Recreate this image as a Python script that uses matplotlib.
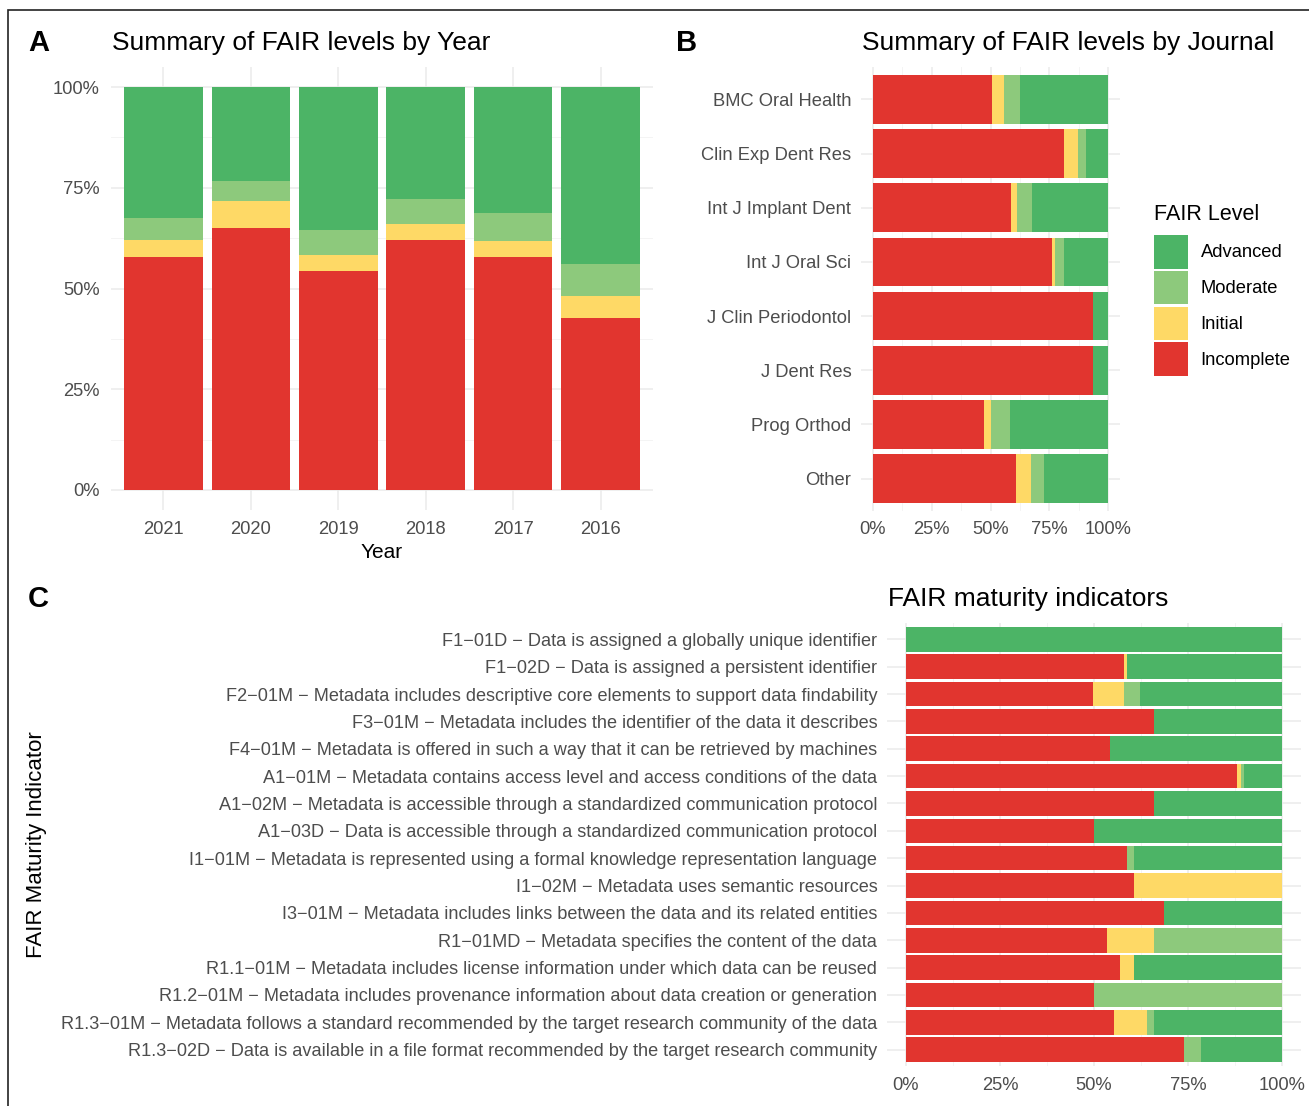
import matplotlib
matplotlib.use("Agg")
import matplotlib.pyplot as plt
from matplotlib.patches import Patch, Rectangle
from matplotlib.ticker import MultipleLocator, PercentFormatter
import numpy as np

plt.rcParams['font.family'] = ['Liberation Sans', 'DejaVu Sans']

# colours for the four FAIR levels
levels = ['Incomplete', 'Initial', 'Moderate', 'Advanced']
level_colors = {'Incomplete': '#E1352F', 'Initial': '#FED966',
                'Moderate': '#8DC97C', 'Advanced': '#4CB466'}

# --- panel A: by year (fractions) ---
years = ['2021', '2020', '2019', '2018', '2017', '2016']
year_incomplete = [0.578, 0.650, 0.544, 0.620, 0.578, 0.427]
year_initial = [0.042, 0.067, 0.039, 0.040, 0.040, 0.055]
year_moderate = [0.055, 0.050, 0.062, 0.062, 0.069, 0.079]
year_advanced = [0.325, 0.233, 0.355, 0.278, 0.313, 0.439]

# --- panel B: by journal ---
journals = ['BMC Oral Health', 'Clin Exp Dent Res', 'Int J Implant Dent',
            'Int J Oral Sci', 'J Clin Periodontol', 'J Dent Res',
            'Prog Orthod', 'Other']
journal_incomplete = [0.506, 0.813, 0.587, 0.762, 0.936, 0.936, 0.472, 0.609]
journal_initial = [0.051, 0.059, 0.026, 0.012, 0.0, 0.0, 0.030, 0.063]
journal_moderate = [0.069, 0.034, 0.064, 0.039, 0.0, 0.0, 0.081, 0.056]
journal_advanced = [0.374, 0.094, 0.323, 0.187, 0.064, 0.064, 0.417, 0.272]

# --- panel C: maturity indicators ---
indicators = [
    'F1\u221201D \u2212 Data is assigned a globally unique identifier',
    'F1\u221202D \u2212 Data is assigned a persistent identifier',
    'F2\u221201M \u2212 Metadata includes descriptive core elements to support data findability',
    'F3\u221201M \u2212 Metadata includes the identifier of the data it describes',
    'F4\u221201M \u2212 Metadata is offered in such a way that it can be retrieved by machines',
    'A1\u221201M \u2212 Metadata contains access level and access conditions of the data',
    'A1\u221202M \u2212 Metadata is accessible through a standardized communication protocol',
    'A1\u221203D \u2212 Data is accessible through a standardized communication protocol',
    'I1\u221201M \u2212 Metadata is represented using a formal knowledge representation language',
    'I1\u221202M \u2212 Metadata uses semantic resources',
    'I3\u221201M \u2212 Metadata includes links between the data and its related entities',
    'R1\u221201MD \u2212 Metadata specifies the content of the data',
    'R1.1\u221201M \u2212 Metadata includes license information under which data can be reused',
    'R1.2\u221201M \u2212 Metadata includes provenance information about data creation or generation',
    'R1.3\u221201M \u2212 Metadata follows a standard recommended by the target research community of the data',
    'R1.3\u221202D \u2212 Data is available in a file format recommended by the target research community',
]
ind_incomplete = [0.0, 0.580, 0.497, 0.660, 0.543, 0.880, 0.660, 0.500,
                  0.588, 0.606, 0.686, 0.535, 0.569, 0.500, 0.553, 0.739]
ind_initial = [0.0, 0.008, 0.083, 0.0, 0.0, 0.011, 0.0, 0.0,
               0.0, 0.394, 0.0, 0.125, 0.037, 0.0, 0.088, 0.0]
ind_moderate = [0.0, 0.0, 0.042, 0.0, 0.0, 0.008, 0.0, 0.0,
                0.018, 0.0, 0.0, 0.340, 0.0, 0.500, 0.019, 0.046]
ind_advanced = [1.0, 0.412, 0.378, 0.340, 0.457, 0.101, 0.340, 0.500,
                0.394, 0.0, 0.314, 0.0, 0.394, 0.0, 0.340, 0.215]

W, H = 1309, 1106
fig = plt.figure(figsize=(W / 100, H / 100), dpi=100)


def px_rect(left, top, right, bottom):
    return [left / W, 1 - bottom / H, (right - left) / W, (bottom - top) / H]


def style_axis(ax):
    for s in ax.spines.values():
        s.set_visible(False)
    ax.set_axisbelow(True)
    ax.grid(which='major', color='#EBEBEB', linewidth=1.1)
    ax.grid(which='minor', color='#F2F2F2', linewidth=0.6)
    ax.tick_params(which='both', length=0, labelsize=13.2, labelcolor='#4D4D4D')


# ---------- A ----------
axA = fig.add_axes(px_rect(111, 67, 653, 510))
style_axis(axA)
xa = np.arange(len(years))
bottom = np.zeros(len(years))
for name, vals in zip(levels, [year_incomplete, year_initial, year_moderate, year_advanced]):
    axA.bar(xa, vals, bottom=bottom, width=0.9, color=level_colors[name], linewidth=0)
    bottom += np.array(vals)
axA.set_xlim(-0.6, len(years) - 0.4)
axA.set_ylim(-0.05, 1.05)
axA.set_xticks(xa)
axA.set_xticklabels(years)
axA.yaxis.set_major_locator(MultipleLocator(0.25))
axA.yaxis.set_minor_locator(MultipleLocator(0.125))
axA.yaxis.set_major_formatter(PercentFormatter(1.0, decimals=0))
axA.grid(which='minor', axis='x', visible=False)
axA.tick_params(axis='y', pad=8)
axA.tick_params(axis='x', pad=8)
fig.text(382 / W, 1 - 553 / H, 'Year', fontsize=15, ha='center', va='center')
fig.text(112 / W, 1 - 43 / H, 'Summary of FAIR levels by Year', fontsize=19,
         ha='left', va='center')

# ---------- B ----------
axB = fig.add_axes(px_rect(861, 67, 1120, 511))
style_axis(axB)
yb = np.arange(len(journals))
left = np.zeros(len(journals))
for name, vals in zip(levels, [journal_incomplete, journal_initial, journal_moderate, journal_advanced]):
    axB.barh(yb, vals, left=left, height=0.9, color=level_colors[name], linewidth=0)
    left += np.array(vals)
axB.set_ylim(len(journals) - 0.4, -0.6)
axB.set_xlim(-0.05, 1.05)
axB.set_yticks(yb)
axB.set_yticklabels(journals)
axB.xaxis.set_major_locator(MultipleLocator(0.25))
axB.xaxis.set_minor_locator(MultipleLocator(0.125))
axB.xaxis.set_major_formatter(PercentFormatter(1.0, decimals=0))
axB.grid(which='minor', axis='y', visible=False)
axB.tick_params(axis='y', pad=7)
axB.tick_params(axis='x', pad=7)
fig.text(862 / W, 1 - 43 / H, 'Summary of FAIR levels by Journal', fontsize=19,
         ha='left', va='center')

# legend
fig.text(1154 / W, 1 - 215 / H, 'FAIR Level', fontsize=15.5, ha='left', va='center')
handles = [Patch(facecolor=level_colors[n], edgecolor='none', label=n) for n in reversed(levels)]
fig.legend(handles=handles, loc='upper left', bbox_to_anchor=(1154 / W, 1 - 235 / H),
           frameon=False, fontsize=13.2, handlelength=1.83, handleheight=2.44,
           labelspacing=0.12, handletextpad=0.72, borderpad=0, borderaxespad=0)

# ---------- C ----------
axC = fig.add_axes(px_rect(887, 623, 1301, 1066))
style_axis(axC)
yc = np.arange(len(indicators))
left = np.zeros(len(indicators))
for name, vals in zip(levels, [ind_incomplete, ind_initial, ind_moderate, ind_advanced]):
    axC.barh(yc, vals, left=left, height=0.9, color=level_colors[name], linewidth=0)
    left += np.array(vals)
axC.set_ylim(len(indicators) - 0.4, -0.6)
axC.set_xlim(-0.05, 1.05)
axC.set_yticks(yc)
axC.set_yticklabels(indicators)
axC.xaxis.set_major_locator(MultipleLocator(0.25))
axC.xaxis.set_minor_locator(MultipleLocator(0.125))
axC.xaxis.set_major_formatter(PercentFormatter(1.0, decimals=0))
axC.grid(which='minor', axis='y', visible=False)
axC.tick_params(axis='y', pad=7, labelsize=13.05)
axC.tick_params(axis='x', pad=8)
fig.text(888 / W, 1 - 599 / H, 'FAIR maturity indicators', fontsize=19,
         ha='left', va='center')
fig.text(37 / W, 1 - 845 / H, 'FAIR Maturity Indicator', fontsize=16,
         rotation=90, ha='center', va='center')

# panel letters
for letter, x, y in [('A', 28, 43), ('B', 676, 43), ('C', 28, 599)]:
    fig.text(x / W, 1 - y / H, letter, fontsize=21, fontweight='bold',
             ha='left', va='center')

# thin frame around the figure (cut off at right and bottom)
fig.patches.append(Rectangle((8 / W, -0.01), 1.1, 1 - 10 / H + 0.01,
                             transform=fig.transFigure, fill=False,
                             edgecolor='#222222', linewidth=1.2))

fig.savefig('out.png', dpi=100)
